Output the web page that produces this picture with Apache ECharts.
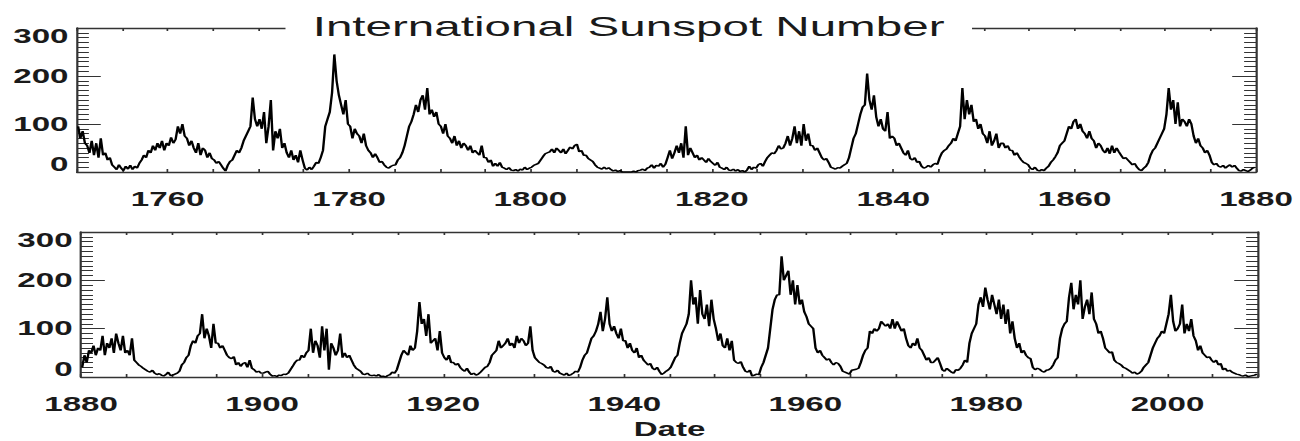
<!DOCTYPE html>
<html>
<head>
<meta charset="utf-8">
<script src="https://cdn.jsdelivr.net/npm/echarts@6/dist/echarts.min.js"></script>
<style>
html,body{margin:0;padding:0;background:#fff;}
#wrap{width:1300px;height:441px;overflow:hidden;position:relative;}
#chart{width:765px;height:441px;transform:scaleX(1.69935);transform-origin:0 0;}
</style>
</head>
<body>
<div id="wrap"><div id="chart"></div></div>
<script>
// Quarterly readings of the monthly International Sunspot Number (4 values per year)
const d1750 = [95,70,85,60, 55,40,65,35, 60,30,70,35, 40,25,30,15, 10,5,15,8, 3,12,6,14, 5,12,8,18, 25,35,30,45, 40,55,45,60, 50,65,45,60];
const d1760 = [55,72,60,68, 95,80,100,75, 70,55,65,50, 40,60,35,50, 45,30,40,28, 25,18,22,15, 8,2,14,22, 25,35,45,40, 50,65,75,85, 95,155,110,95];
const d1770 = [110,90,125,60, 95,150,45,85, 70,90,50,60, 40,30,45,25, 35,20,45,25, 8,4,10,5, 12,20,18,30, 45,95,110,125, 165,245,190,160, 140,120,150,100];
const d1780 = [95,70,90,80, 75,60,80,55, 45,40,30,38, 30,20,22,15, 10,8,12,14, 15,25,30,40, 55,75,95,105, 120,140,125,150, 160,130,175,120, 130,115,125,100];
const d1790 = [95,80,100,75, 70,60,75,55, 65,50,60,55, 45,55,40,45, 40,35,55,30, 30,20,25,12, 18,12,20,10, 8,5,9,4, 3,5,2,6, 4,10,5,8];
const d1800 = [10,14,16,18, 25,32,38,40, 42,48,40,50, 45,40,48,38, 45,52,48,55, 58,42,45,35, 35,28,25,22, 15,10,8,6, 10,6,9,5, 2,4,1,3];
const d1810 = [0,0,0,0, 0,2,0,3, 4,6,3,8, 10,15,8,14, 12,18,10,16, 30,45,28,40, 55,40,60,30, 95,35,50,40, 30,35,25,30, 25,20,28,22];
const d1820 = [18,14,20,10, 8,5,10,4, 3,6,2,5, 1,3,0,4, 12,5,10,8, 15,18,12,22, 30,35,40,38, 45,55,48,50, 60,75,55,70, 95,60,85,55];
const d1830 = [100,65,80,55, 55,45,50,40, 30,25,28,20, 10,8,6,9, 8,12,15,18, 30,50,70,80, 100,120,135,140, 205,150,130,160, 115,95,110,90, 85,125,70,75];
const d1840 = [70,55,60,50, 40,35,45,28, 25,30,20,22, 12,8,10,14, 10,15,18,16, 30,40,45,48, 55,60,70,65, 80,95,175,110, 150,120,140,105, 110,90,100,80];
const d1850 = [75,60,85,55, 65,80,50,60, 60,50,55,45, 45,35,40,32, 25,20,18,15, 8,5,10,4, 2,5,3,8, 12,20,25,32, 40,55,60,65, 80,95,90,105];
const d1860 = [110,90,100,85, 80,70,85,70, 65,50,60,55, 45,40,50,38, 55,40,50,42, 35,28,30,25, 20,15,18,10, 5,3,8,12, 20,35,45,50, 60,70,80,90];
const d1870 = [120,175,130,150, 100,145,95,110, 105,95,110,100, 75,60,70,55, 50,40,45,35, 20,15,18,12, 10,14,8,12, 15,10,14,8, 3,2,5,3, 1,4,8,10];
const d1880 = [20,45,30,55, 50,65,45,60, 55,85,45,70, 60,80,50,90, 70,55,85,50, 55,45,80,35, 30,25,22,18, 15,12,10,14, 8,5,7,4, 2,5,10,3];
const d1890 = [4,6,8,12, 25,30,40,45, 65,75,70,85, 90,130,80,100, 85,60,110,70, 70,60,65,55, 45,40,38,42, 25,30,22,28, 30,20,35,18, 15,10,12,8];
const d1900 = [8,10,12,6, 2,3,1,4, 3,6,5,8, 15,22,30,35, 35,45,40,50, 55,100,50,75, 65,40,105,55, 100,15,70,60, 45,55,90,40, 50,40,45,35];
const d1910 = [25,18,15,12, 6,5,8,4, 3,4,2,5, 1,2,0,3, 5,10,8,15, 30,45,55,50, 45,65,55,60, 95,155,110,120, 85,130,70,75, 80,55,95,50];
const d1920 = [40,35,45,30, 30,25,28,20, 15,12,18,10, 5,8,4,6, 10,15,20,22, 30,45,50,55, 75,60,65,70, 80,65,70,60, 85,70,80,75, 65,70,105,55];
const d1930 = [40,35,30,28, 25,20,18,22, 12,10,14,8, 6,4,8,3, 5,8,12,10, 20,35,45,50, 65,80,85,95, 110,135,95,120, 165,110,95,105, 90,80,100,75];
const d1940 = [75,60,70,55, 50,60,40,45, 35,30,25,28, 18,15,20,12, 5,8,12,15, 20,30,40,45, 70,90,100,110, 130,200,150,165, 110,180,130,120, 150,105,160,120];
const d1950 = [100,75,90,65, 60,80,55,75, 35,30,28,32, 20,12,10,14, 2,4,6,5, 20,30,45,60, 100,140,160,170, 170,250,200,210, 220,170,200,150, 190,150,160,135];
const d1960 = [125,110,105,100, 60,50,55,45, 40,35,38,30, 25,30,28,22, 12,10,8,6, 14,15,16,18, 30,45,55,60, 95,90,100,95, 100,115,110,105, 110,100,120,100];
const d1970 = [115,105,95,100, 80,65,60,70, 65,80,60,55, 45,35,40,30, 30,35,40,28, 15,12,18,14, 10,8,15,14, 18,25,35,30, 70,90,100,110, 150,165,145,185];
const d1980 = [160,140,170,150, 130,160,120,150, 110,140,90,115, 80,60,70,50, 55,45,40,38, 20,15,18,16, 12,10,14,15, 18,25,35,40, 80,100,110,115, 165,195,140,170];
const d1990 = [150,200,120,145, 160,130,175,120, 110,90,95,80, 60,55,50,52, 35,30,28,25, 20,18,15,12, 8,10,6,8, 12,20,25,30, 45,60,70,80, 85,95,90,110];
const d2000 = [130,170,115,95, 100,110,150,90, 110,95,120,85, 75,55,65,50, 45,40,42,35, 30,35,25,28, 15,18,12,14, 10,8,6,5, 3,2,4,1, 2,3,4,6];

const topStart = 1750, botStart = 1880, span = 130;
const xLabelStep = 20;
const titleText = 'International Sunspot Number';
const xName = 'Date';

const topVals = [d1750,d1760,d1770,d1780,d1790,d1800,d1810,d1820,d1830,d1840,d1850,d1860,d1870].flat();
const botVals = [d1880,d1890,d1900,d1910,d1920,d1930,d1940,d1950,d1960,d1970,d1980,d1990,d2000].flat();
const toSeries = (vals, start) => vals.map((v, i) => [start + (i + 0.5) / 4, v]);

const ink = '#1a1a1a';
const frame = '#333';
const labelFont = {fontFamily: 'Liberation Sans', fontWeight: 'bold', fontSize: 19.5, color: ink};

function xAxisPair(gridIndex, start, withName) {
  const base = {
    type: 'value', gridIndex, min: start, max: start + span, interval: 5,
    splitLine: {show: false},
    axisLine: {show: true, onZero: false, lineStyle: {color: frame, width: 1.3}},
    axisTick: {show: true, inside: true, length: 3, lineStyle: {color: frame, width: 1}}
  };
  const bottom = Object.assign({}, base, {
    position: 'bottom',
    axisLabel: Object.assign({}, labelFont, {
      margin: 17, lineHeight: 20,
      formatter: v => (v % xLabelStep === 0 ? String(v) : '')
    })
  });
  if (withName) {
    Object.assign(bottom, {
      name: xName, nameLocation: 'middle', nameGap: 43,
      nameTextStyle: Object.assign({}, labelFont, {lineHeight: 18})
    });
  }
  const top = Object.assign({}, base, {position: 'top', axisLabel: {show: false}});
  return [bottom, top];
}

function yAxisPair(gridIndex) {
  const base = {
    type: 'value', gridIndex, min: 0, max: 300, interval: 100,
    splitLine: {show: false},
    axisLine: {show: true, onZero: false, lineStyle: {color: frame, width: 1.3}},
    axisTick: {show: true, inside: true, length: 14, lineStyle: {color: frame, width: 1}},
    minorTick: {show: true, splitNumber: 10, length: 7, lineStyle: {color: frame, width: 1}},
    minorSplitLine: {show: false}
  };
  const left = Object.assign({}, base, {
    position: 'left',
    axisLabel: Object.assign({}, labelFont, {
      margin: 5, lineHeight: 16,
      formatter: v => v === 300 ? '\n300' : (v === 0 ? '0\n' : String(v))
    })
  });
  const right = Object.assign({}, base, {position: 'right', axisLabel: {show: false}});
  return [left, right];
}

const [xb0, xt0] = xAxisPair(0, topStart, false);
const [xb1, xt1] = xAxisPair(1, botStart, true);
const [yl0, yr0] = yAxisPair(0);
const [yl1, yr1] = yAxisPair(1);

const chart = echarts.init(document.getElementById('chart'), null, {renderer: 'svg'});
chart.setOption({
  animation: false,
  backgroundColor: '#fff',
  title: {
    text: titleText, left: 168, top: 12, padding: [0, 16], backgroundColor: '#fff',
    textStyle: {fontFamily: 'Liberation Sans', fontWeight: 'normal', fontSize: 28, lineHeight: 28, color: ink},
    z: 10
  },
  grid: [
    {left: 45.3, right: 25.9, top: 28, height: 144, containLabel: false, outerBoundsMode: 'none'},
    {left: 47.7, right: 24.7, top: 232, height: 145, containLabel: false, outerBoundsMode: 'none'}
  ],
  xAxis: [xb0, xt0, xb1, xt1],
  yAxis: [yl0, yr0, yl1, yr1],
  series: [
    {type: 'line', xAxisIndex: 0, yAxisIndex: 0, data: toSeries(topVals, topStart), showSymbol: false,
     symbol: 'none', sampling: null, lineStyle: {color: '#000', width: 1.4}, clip: true},
    {type: 'line', xAxisIndex: 2, yAxisIndex: 2, data: toSeries(botVals, botStart), showSymbol: false,
     symbol: 'none', sampling: null, lineStyle: {color: '#000', width: 1.4}, clip: true}
  ]
});
</script>
</body>
</html>
